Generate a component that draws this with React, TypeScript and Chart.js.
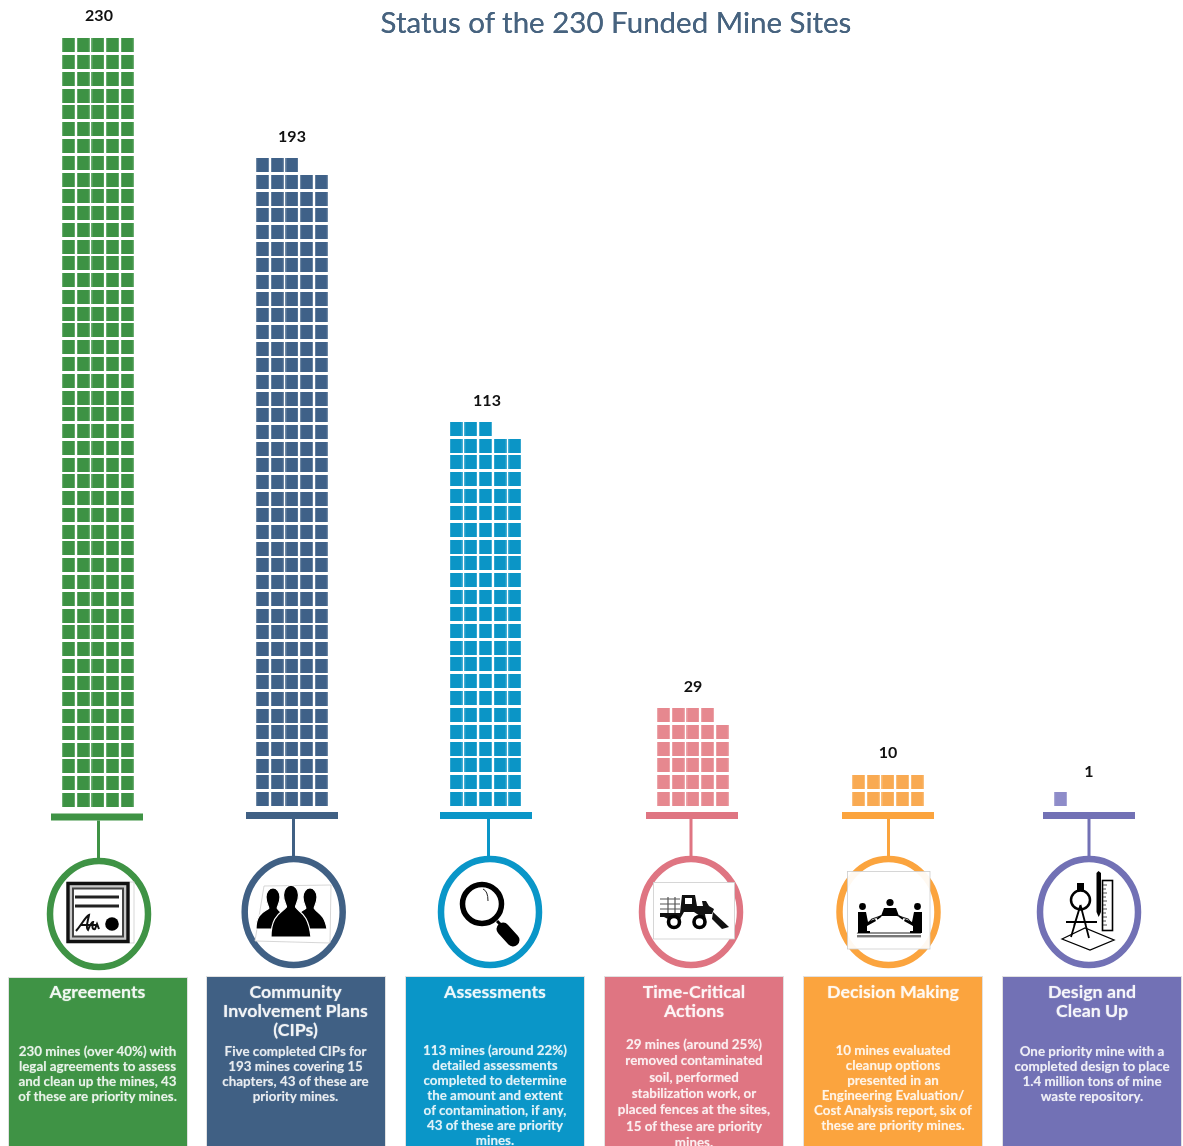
import React, { useEffect, useRef } from "react";
import { Chart, registerables } from "chart.js";

Chart.register(...registerables);

// ---- data ----
const chartTitle = "Status of the 230 Funded Mine Sites";
const categories = ["Agreements", "Community Involvement Plans (CIPs)", "Assessments", "Time-Critical Actions", "Decision Making", "Design and Clean Up"];
const siteCounts = [230, 193, 113, 29, 10, 1];
const cardTitles = [
  ["Agreements"],
  ["Community", "Involvement Plans", "(CIPs)"],
  ["Assessments"],
  ["Time-Critical", "Actions"],
  ["Decision Making"],
  ["Design and", "Clean Up"],
];
const cardBodies = [
  ["230 mines (over 40%) with", "legal agreements to assess", "and clean up the mines, 43", "of these are priority mines."],
  ["Five completed CIPs for", "193 mines covering 15", "chapters, 43 of these are", "priority mines."],
  ["113 mines (around 22%)", "detailed assessments", "completed to determine", "the amount and extent", "of contamination, if any,", "43 of these are priority", "mines."],
  ["29 mines (around 25%)", "removed contaminated", "soil, performed", "stabilization work, or", "placed fences at the sites,", "15 of these are priority", "mines."],
  ["10 mines evaluated", "cleanup options", "presented in an", "Engineering Evaluation/", "Cost Analysis report, six of", "these are priority mines."],
  ["One priority mine with a", "completed design to place", "1.4 million tons of mine", "waste repository."],
];

// ---- layout and style ----
const W = 1183;
const H = 1146;
const UNITS_PER_ROW = 5;
const CELL_W = 13.2;
const CELL_H = 14;
const PITCH_X = 14.67;
const stackLeft = [62, 256, 449.5, 657, 852, 1054];
const stackBottom = [807, 806, 806, 806, 806, 806];
const rowPitch = [16.77, 16.68, 16.83, 16.8, 16.8, 16.8];
const baseBarLeft = [51, 246, 440, 646, 842, 1043];
const baseBarTop = [813.5, 812, 812, 812, 812, 812];
const BASE_W = 92;
const BASE_H = 7;
const ringX = [99, 293.7, 490, 691, 888.5, 1089];
const ringY = [914, 912, 912, 912, 912, 912];
const stemX = [98.5, 293.5, 488.5, 691, 888.5, 1089];
const labelX = [99, 292, 487, 693, 888, 1089];
const labelGap = [23, 21, 21, 21, 22, 20];
const cardLeft = [8.5, 207, 406, 605, 804, 1003];
const cardTop = [978, 977, 977, 977, 977, 977];
const cardCentre = [97.5, 295.5, 495, 694, 893, 1092];
const bodyFirstY = [1051, 1051, 1050, 1044, 1050, 1051];
const bodyPitch = [15, 15, 15, 16.3, 15, 15];
const mainColors = ["#3f9345", "#406084", "#0a96c8", "#df7582", "#fba43e", "#7271b5"];
const cellColors = ["#3d9244", "#3f6188", "#0b95c6", "#e6888f", "#f9aa52", "#8e8cc9"];

function cellImage(color: string) {
  const c = document.createElement("canvas");
  c.width = 13;
  c.height = 14;
  const g = c.getContext("2d")!;
  g.fillStyle = color;
  g.fillRect(0.25, 0, 12.5, 14);
  return c;
}

function cellsFor(count: number, s: number) {
  const pts: { x: number; y: number }[] = [];
  for (let i = 0; i < count; i++) {
    const col = i % UNITS_PER_ROW;
    const row = Math.floor(i / UNITS_PER_ROW);
    pts.push({
      x: stackLeft[s] + col * PITCH_X + CELL_W / 2,
      y: stackBottom[s] - CELL_H / 2 - row * rowPitch[s],
    });
  }
  return pts;
}

const decorPlugin = {
  id: "decor",
  afterDatasetsDraw(chart: any) {
    const { ctx, scales } = chart;
    const px = (v: number) => scales.x.getPixelForValue(v);
    const py = (v: number) => scales.y.getPixelForValue(v);
    ctx.save();
    siteCounts.forEach((count, s) => {
      const color = mainColors[s];
      ctx.fillStyle = color;
      ctx.fillRect(px(baseBarLeft[s]), py(baseBarTop[s]), BASE_W, BASE_H);
      ctx.fillRect(px(stemX[s]) - 1.5, py(baseBarTop[s] + BASE_H), 3, ringY[s] - 54 - baseBarTop[s] - BASE_H);
      ctx.beginPath();
      ctx.ellipse(px(ringX[s]), py(ringY[s]), 49, 53, 0, 0, Math.PI * 2);
      ctx.fillStyle = "#fff";
      ctx.fill();
      ctx.strokeStyle = color;
      ctx.lineWidth = 6.5;
      ctx.stroke();
      const rows = Math.ceil(count / UNITS_PER_ROW);
      const top = stackBottom[s] - CELL_H - (rows - 1) * rowPitch[s];
      ctx.fillStyle = "#111";
      ctx.font = "700 16px Lato";
      ctx.textAlign = "center";
      ctx.textBaseline = "middle";
      ctx.fillText(String(count), px(labelX[s]), py(top - labelGap[s]));
    });
    ctx.restore();
  },
};

function Person({ cx, head, r, w, bottom }: { cx: number; head: number; r: number; w: number; bottom: number }) {
  const neck = head + r * 1.3;
  return (
    <path
      d={`M${cx - r},${head} a${r},${r * 1.3} 0 1 1 ${2 * r},0 c0,${r * 0.9} ${-r * 0.4},${r * 1.3} ${-r * 0.4},${r * 1.6} c${r * 0.5},${r * 0.8} ${w - r},${r * 0.7} ${w - r * 0.6},${bottom - neck - r * 0.3} L${cx + w},${bottom} L${cx - w},${bottom} c0,${-(bottom - neck) * 0.7} ${w - r * 1.2},${-(bottom - neck) * 0.75} ${w - r * 0.6},${-(bottom - neck) + r * 0.3} c0,${-r * 0.3} ${-r * 0.4},${-r * 0.7} ${-r * 0.4},${-r * 1.6} z`}
      fill="#000"
      stroke="#fff"
      strokeWidth={1.2}
    />
  );
}

function Icons() {
  return (
    <svg width={W} height={H} viewBox={`0 0 ${W} ${H}`} style={{ position: "absolute", left: 0, top: 0, pointerEvents: "none", filter: "blur(0.5px)" }}>
      {/* certificate */}
      <g>
        <rect x="67" y="882" width="67" height="61" fill="#fff" stroke="#ccc" strokeWidth="0.8" />
        <rect x="68" y="883.5" width="60" height="58" fill="#c8c8c8" stroke="#111" strokeWidth="3.4" />
        <rect x="73" y="888.5" width="50" height="48" fill="#fff" stroke="#444" strokeWidth="2" />
        <rect x="75" y="895.5" width="44" height="3" fill="#222" />
        <rect x="75" y="904.5" width="44" height="3" fill="#222" />
        <circle cx="112" cy="924" r="6.8" fill="#000" />
        <path d="M76,931 C82,924 86,916 89,915 C88,921 85,928 88,930 C90,925 92,922 93,922 C92,926 92,930 95,929 L97,924 L99,929 M81,925 L97,925" fill="none" stroke="#111" strokeWidth="2" />
      </g>
      {/* people */}
      <g>
        <path d="M264,886 L331,885 L330,943 L255,941 Z" fill="#fff" stroke="#ccc" strokeWidth="0.8" />
        <Person cx={273} head={897} r={7} w={17} bottom={929} />
        <Person cx={310} head={897} r={7} w={17} bottom={929} />
        <Person cx={291} head={895} r={7.5} w={20} bottom={937} />
      </g>
      {/* magnifier */}
      <g>
        <circle cx="482" cy="904" r="19.5" fill="#fff" stroke="#000" strokeWidth="5.5" />
        <path d="M483,889 Q488,891 488,901" fill="none" stroke="#222" strokeWidth="1" />
        <line x1="497" y1="921" x2="502" y2="926" stroke="#000" strokeWidth="3" />
        <line x1="503" y1="929" x2="513" y2="940" stroke="#000" strokeWidth="13" strokeLinecap="round" />
      </g>
      {/* loader */}
      <g>
        <rect x="653.5" y="882.5" width="81" height="56.5" fill="#fff" stroke="#ccc" strokeWidth="0.8" />
        <path d="M660,899 H680 M660,904 H680 M660,909 H680 M668,897 V914 M675,897 V914" stroke="#555" strokeWidth="1.2" fill="none" />
        <path d="M660,913 H680 L682,895 H695 L697,906 L703,906 L702,901 L706,901 L709,906 L714,909 L712,914 L705,914 L706,920 L694,912 L684,912 L680,919 L668,919 L664,917 L660,917 Z" fill="#111" />
        <path d="M685,898 H692 V904 H685 Z" fill="#fff" />
        <path d="M713,912 L729,927 L722,929 L712,919 Z" fill="#111" />
        <circle cx="674" cy="922" r="5.5" fill="#fff" stroke="#000" strokeWidth="3.6" />
        <circle cx="699.5" cy="922" r="5.5" fill="#fff" stroke="#000" strokeWidth="3.6" />
      </g>
      {/* meeting */}
      <g>
        <rect x="847.5" y="871.5" width="82.5" height="77.5" fill="#fff" fillOpacity="0.93" stroke="#ccc" strokeWidth="0.8" />
        <path d="M872,919 L889,913 L908,919 L920,933 H858 Z" fill="#fff" stroke="#222" strokeWidth="1.1" />
        <rect x="857" y="935" width="64" height="2.4" fill="#777" />
        <circle cx="890" cy="902.5" r="3.6" fill="#000" />
        <path d="M881,916 L884,908 H896 L899,916 Z" fill="#000" />
        <path d="M881,916 L877,919 M899,916 L903,919" stroke="#000" strokeWidth="1.6" />
        <circle cx="862.5" cy="906.5" r="3.4" fill="#000" />
        <path d="M858,912 H866 L868,922 L875,919 L876,921 L867,926 V931 H870 V933 H858 Z" fill="#000" />
        <circle cx="917.5" cy="906.5" r="3.4" fill="#000" />
        <path d="M922,912 H914 L912,922 L905,919 L904,921 L913,926 V931 H910 V933 H922 Z" fill="#000" />
      </g>
      {/* drafting */}
      <g>
        <path d="M1096.5,873 L1098.5,871 L1101,873 V912 L1098.7,917 L1096.5,912 Z" fill="#000" />
        <rect x="1102.5" y="880.5" width="10" height="50" fill="#fff" stroke="#000" strokeWidth="1.6" />
        <path d="M1103,885 h4 M1103,889 h3 M1103,893 h4 M1103,897 h3 M1103,901 h4 M1103,905 h3 M1103,909 h4 M1103,913 h3 M1103,917 h4 M1103,921 h3 M1103,925 h4" stroke="#222" strokeWidth="0.8" />
        <path d="M1062,939 L1085,928 L1114,940 L1090,950 Z" fill="#fff" stroke="#000" strokeWidth="1.3" />
        <circle cx="1080.5" cy="900" r="9.5" fill="#fff" stroke="#000" strokeWidth="2.5" />
        <rect x="1077" y="883" width="7" height="7" fill="#000" />
        <path d="M1080.5,905 L1071,937 M1080.5,905 L1089,938 M1080.5,905 L1074,926 M1080.5,905 L1086,926" stroke="#000" strokeWidth="1.8" fill="none" />
        <path d="M1066,922 H1097" stroke="#000" strokeWidth="2" />
      </g>
    </svg>
  );
}

export default function App() {
  const ref = useRef<HTMLCanvasElement | null>(null);

  useEffect(() => {
    const chart = new Chart(ref.current!, {
      type: "scatter",
      data: {
        datasets: siteCounts.map((count, s) => ({
          label: categories[s],
          data: cellsFor(count, s),
          pointStyle: cellImage(cellColors[s]),
          pointRadius: 7,
          pointHoverRadius: 7,
          showLine: false,
        })),
      } as any,
      options: {
        responsive: false,
        animation: false,
        events: [],
        layout: { padding: 0, autoPadding: false },
        plugins: { legend: { display: false }, tooltip: { enabled: false } },
        scales: {
          x: { type: "linear", display: false, min: 0, max: W },
          y: { type: "linear", display: false, min: 0, max: H, reverse: true },
        },
      },
      plugins: [decorPlugin],
    } as any);
    return () => chart.destroy();
  }, []);

  const font = "Lato, 'Open Sans', sans-serif";
  return (
    <div style={{ position: "absolute", left: 0, top: 0, width: W, height: H, overflow: "hidden", background: "#fff", fontFamily: font }}>
      <canvas ref={ref} width={W} height={H} style={{ position: "absolute", left: 0, top: 0, width: W, height: H }} />
      <Icons />
      <div style={{ position: "absolute", left: 316, width: 600, top: 2, textAlign: "center", fontSize: 29.5, lineHeight: "40px", color: "#47637f", whiteSpace: "nowrap", textShadow: "0 0 0.6px #47637f" }}>
        {chartTitle}
      </div>
      {categories.map((name, s) => (
        <div key={name} style={{ position: "absolute", left: cardLeft[s], top: cardTop[s], width: 178, height: H - cardTop[s], background: mainColors[s], outline: "1px solid rgba(170,170,170,0.35)" }}>
          {cardTitles[s].map((line, i) => (
            <div key={i} style={{ position: "absolute", left: cardCentre[s] - cardLeft[s] - 89, width: 178, top: 991 + i * 19.2 - cardTop[s] - 11, lineHeight: "22px", textAlign: "center", whiteSpace: "nowrap", color: "rgba(255,255,255,0.85)", fontWeight: 700, fontSize: 17.8, textShadow: "0 0 1.2px rgba(255,255,255,0.6)" }}>
              {line}
            </div>
          ))}
          {cardBodies[s].map((line, i) => (
            <div key={i} style={{ position: "absolute", left: cardCentre[s] - cardLeft[s] - 89, width: 178, top: bodyFirstY[s] + i * bodyPitch[s] - cardTop[s] - 9, lineHeight: "18px", textAlign: "center", whiteSpace: "nowrap", color: "rgba(255,255,255,0.8)", fontWeight: 700, fontSize: 13.4, textShadow: "0 0 1px rgba(255,255,255,0.45)" }}>
              {line}
            </div>
          ))}
        </div>
      ))}
    </div>
  );
}
